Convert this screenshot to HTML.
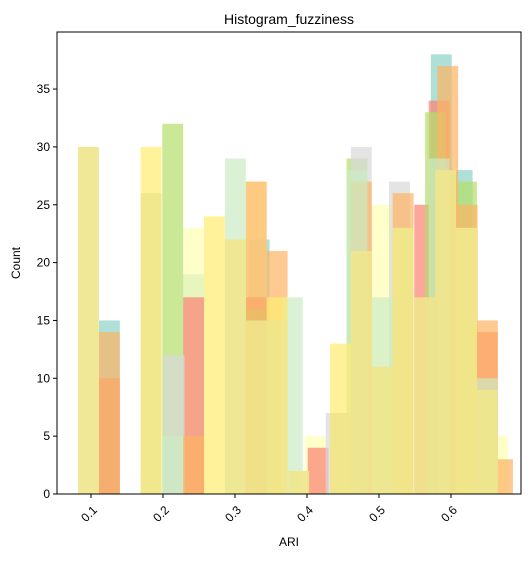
<!DOCTYPE html>
<html><head><meta charset="utf-8"><style>
body{margin:0;background:#fff;font-family:"Liberation Sans",sans-serif}
</style></head><body>
<svg id="c" width="531" height="559" xmlns="http://www.w3.org/2000/svg" style="font-family:'Liberation Sans',sans-serif"></svg>
<script>
const xTicks=[0.1,0.2,0.3,0.4,0.5,0.6];
const yTicks=[0,5,10,15,20,25,30,35];
const binWidth=0.029;
const tealBins=[0.111,0.228,0.319,0.572,0.601];
const tealCounts=[15,19,22,38,28];
const paleBins=[0.228,0.315,0.490,0.397,0.650];
const paleCounts=[23,27,25,5,5];
const salmonBins=[0.111,0.228,0.315,0.549,0.569,0.636,0.401];
const salmonCounts=[10,17,17,25,34,14,4];
const greenBins=[0.199,0.315,0.455,0.564,0.607];
const greenCounts=[32,16,29,33,27];
const greyBins=[0.201,0.461,0.514,0.426];
const greyCounts=[12,30,27,7];
const orangeBins=[0.111,0.228,0.315,0.344,0.461,0.519,0.581,0.608,0.636,0.657];
const orangeCounts=[14,5,27,21,27,26,37,25,15,3];
const ltgreenBins=[0.286,0.199,0.455,0.365,0.569,0.490,0.636];
const ltgreenCounts=[29,5,28,17,29,17,10];
const yellowBins=[0.169,0.257,0.432,0.519,0.607,0.344];
const yellowCounts=[30,24,13,23,23,17];
const khakiBins=[0.082,0.169,0.286,0.315,0.344,0.374,0.432,0.461,0.490,0.519,0.549,0.578,0.607,0.636];
const khakiCounts=[30,26,22,15,15,2,7,21,11,23,17,28,23,9];
const series=[
 [tealBins,tealCounts,'#8dd3c7'],[paleBins,paleCounts,'#ffffb3'],[salmonBins,salmonCounts,'#fb8072'],
 [greenBins,greenCounts,'#b3de69'],[greyBins,greyCounts,'#d9d9d9'],[orangeBins,orangeCounts,'#fdb462'],
 [ltgreenBins,ltgreenCounts,'#ccebc5'],[yellowBins,yellowCounts,'#ffed6f'],[khakiBins,khakiCounts,'#f0e68c']];
const L=57,R=521,T=32,B=494;
const X=v=>91+(v-0.1)*720;
const Y=c=>B-c*11.57;
const svg=document.getElementById('c');
const NS='http://www.w3.org/2000/svg';
function el(t,a,p){const e=document.createElementNS(NS,t);for(const k in a)e.setAttribute(k,a[k]);(p||svg).appendChild(e);return e;}
const g=el('g',{});


series.forEach(([bins,counts,col],si)=>{
 bins.forEach((b,i)=>{
  const r=el('rect',{x:X(b),y:Y(counts[i]),width:X(b+binWidth)-X(b),height:Y(0)-Y(counts[i]),fill:col,'fill-opacity':si==8?0.9:0.7},g);
  
  
 });
});
const f=el('rect',{x:L,y:T,width:R-L,height:B-T,fill:'none',stroke:'#000','stroke-width':1});


xTicks.forEach(t=>{
 el('line',{x1:X(t),x2:X(t),y1:B,y2:B+4,stroke:'#000'});
 const tx=el('text',{x:X(t)+4,y:B+18,'font-size':12,'text-anchor':'end',transform:`rotate(-45 ${X(t)+4} ${B+14})`});
 tx.textContent=t.toFixed(1);
 
 
});
yTicks.forEach(t=>{
 el('line',{x1:L-4,x2:L,y1:Y(t),y2:Y(t),stroke:'#000'});
 const tx=el('text',{x:L-7,y:Y(t)+4,'font-size':12,'text-anchor':'end'});
 tx.textContent=t;
 
 
});
const ti=el('text',{x:289,y:24,'font-size':14,'text-anchor':'middle'});ti.textContent='Histogram_fuzziness';


const xl=el('text',{x:289,y:546,'font-size':12,'text-anchor':'middle'});xl.textContent='ARI';


const yl=el('text',{x:20,y:263,'font-size':12,'text-anchor':'middle',transform:'rotate(-90 20 263)'});yl.textContent='Count';


</script>
</body></html>
